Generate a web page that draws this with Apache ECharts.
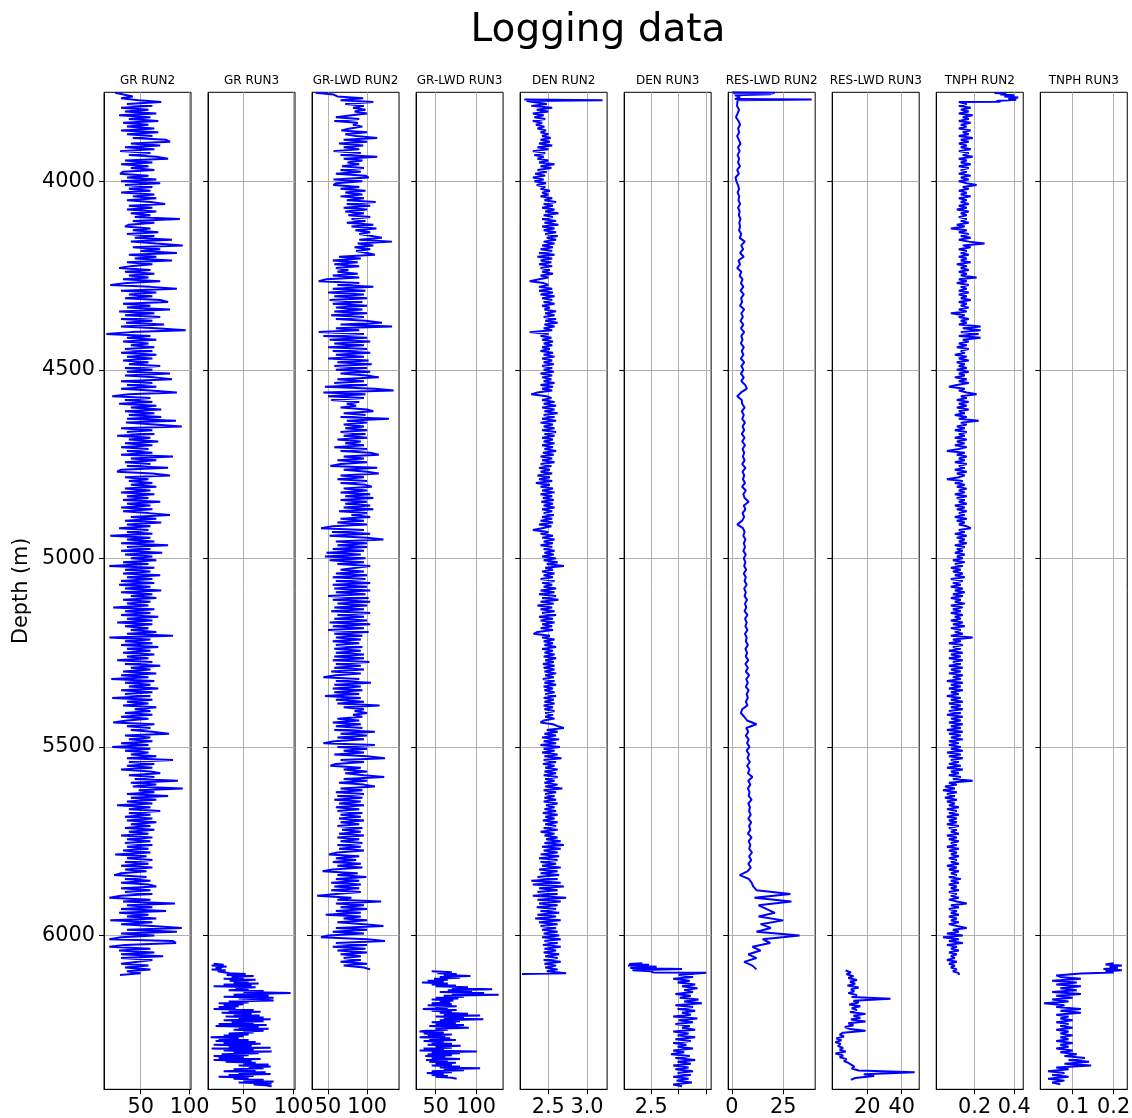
<!DOCTYPE html>
<html><head><meta charset="utf-8">
<script src="https://cdn.jsdelivr.net/npm/echarts@6/dist/echarts.min.js"></script>
<style>html,body{margin:0;padding:0;background:#fff}#c{width:1132px;height:1118px}</style>
</head><body><div id="c"></div>
<script>
// ---------------- DATA ----------------
const chartTitle = 'Logging data';
const depthLabel = 'Depth (m)';
const panelTitles = ['GR RUN2','GR RUN3','GR-LWD RUN2','GR-LWD RUN3','DEN RUN2','DEN RUN3','RES-LWD RUN2','RES-LWD RUN3','TNPH RUN2','TNPH RUN3'];
const depthTicks = [4000, 4500, 5000, 5500, 6000];
const depthMin = 3764, depthMax = 6408;
const xMins = [12.6, 14.4, 29.5, 25.7, 2.136, 2.2545, -1.8, -0.35, 0.006, 0.021];
const xMaxs = [101.4, 101.4, 141.0, 133.5, 3.259, 3.045, 40.6, 50.2, 0.4454, 0.2332];
const xTicks = [[50,100],[50,100],[50,100],[50,100],[2.5,3.0],[2.5,2.75,3.0],[0,25],[20,40],[0.2,0.4],[0.1,0.2]];
const xTickLabels = [['50','100'],['50','100'],['50','100'],['50','100'],['2.5','3.0'],['2.5','',''],['0','25'],['20','40'],['0.2','0.4'],['0.1','0.2']];

// heads/tails are [depth, value]; grids are values read at start + i*step
const grRun2Head = [[3765, 24]];
const grRun2Start = 3770, grRun2Step = 5;
const grRun2 = [
 24,42,30,48,71,36,62,30,58,34,66,28,60,38,68,32,58,36,64,30,
 68,36,62,42,76,80,40,70,34,64,29,60,38,66,78,34,62,30,58,40,
 64,32,29,58,36,66,30,70,34,62,38,60,30,64,42,66,36,60,75,38,
 62,36,66,40,60,44,90,42,64,38,34,60,42,68,36,64,44,82,40,66,
 93,42,70,50,87,38,66,44,82,36,62,40,28,60,34,64,38,58,32,70,
 36,19,60,87,30,66,38,62,34,70,78,32,60,36,80,28,64,34,70,30,
 62,35,74,30,66,96,40,15,60,36,66,32,58,40,64,34,62,30,66,36,
 62,32,58,38,70,34,62,36,80,34,64,82,30,62,36,66,30,60,87,38,
 21,60,34,62,28,66,40,71,34,64,38,71,36,86,35,64,92,30,62,36,
 64,26,60,38,68,34,62,30,58,36,62,30,83,40,66,34,60,36,78,30,
 26,62,80,34,58,38,62,40,66,34,60,30,64,36,58,32,70,36,60,30,
 62,32,58,80,40,66,34,71,36,60,28,58,36,62,19,60,36,64,30,78,
 36,60,30,72,34,62,40,66,32,58,18,64,34,60,32,70,36,62,30,64,
 28,60,34,71,30,62,40,66,32,60,36,58,22,64,34,60,30,68,36,62,
 26,62,34,58,40,66,36,83,18,60,34,62,30,68,36,60,32,64,36,58,
 26,62,34,70,40,60,32,66,30,58,20,64,34,60,38,68,30,62,34,60,
 21,62,36,58,32,66,44,60,34,62,30,58,36,22,64,36,60,40,62,79,
 34,60,38,62,30,58,21,60,34,58,40,66,36,83,38,64,36,62,30,60,
 70,38,64,44,88,40,66,42,93,48,64,36,78,40,66,36,62,26,60,38,
 70,38,60,34,62,36,66,40,60,34,64,38,58,30,62,36,60,34,62,36,
 58,32,60,24,56,36,62,34,58,30,62,34,56,30,23,56,34,60,30,58,
 66,30,60,34,62,30,18,60,32,85,36,62,30,76,28,58,36,66,19,62,
 30,62,92,36,87,30,64,30,18,83,86,34,18,60,28,64,30,73,30,62,
 60,30,58,34,60,36,50,29];

const grRun3Start = 6075, grRun3Step = 2.5;
const grRun3 = [
 20,30,18,33,22,28,18,32,24,30,36,52,33,60,38,50,30,62,36,55,
 40,65,30,58,20,62,42,55,35,70,50,97,60,40,75,30,80,45,70,80,
 35,55,25,50,30,45,25,42,20,60,35,67,28,58,40,66,32,70,45,77,
 30,70,38,60,25,73,22,65,45,75,40,70,50,60,35,55,30,50,17,45,
 25,55,22,62,30,67,20,58,35,77,18,60,30,78,40,65,28,55,20,50,
 25,67,20,58,32,62,50,75,45,77,55,70,40,62,30,72,45,77,35,60,
 25,55,40,70,50,80,45,78,60,72,78];

const grLwdRun2Start = 3765, grLwdRun2Step = 5;
const grLwdRun2 = [
 34,57,62,95,66,108,72,96,82,98,84,100,80,60,90,58,88,82,94,78,
 67,100,72,86,113,70,100,64,95,70,90,57,92,66,113,70,94,75,90,68,
 96,66,92,60,98,102,57,94,60,57,90,66,98,72,94,66,96,74,111,74,
 104,70,100,72,96,76,104,80,98,74,108,80,112,85,104,90,106,119,90,132,
 88,108,84,104,86,100,110,64,92,56,88,58,90,60,76,62,88,56,90,48,
 38,90,62,108,56,98,50,96,58,100,52,94,56,100,60,94,58,100,54,96,
 60,98,119,66,132,60,90,38,96,44,100,52,104,58,96,50,100,56,104,60,
 96,50,102,62,106,58,100,60,104,66,100,115,62,96,58,100,46,110,134,44,
 98,50,96,54,90,74,86,66,100,108,70,98,66,128,74,100,70,96,72,100,
 66,98,70,100,62,92,72,96,58,100,66,104,115,70,96,62,100,66,53,113,
 70,100,115,66,96,62,100,66,98,106,70,100,66,104,72,108,66,100,72,104,
 70,108,64,100,80,104,66,96,62,100,56,41,96,55,104,52,100,121,60,100,
 62,100,56,96,48,92,46,98,52,96,62,104,106,66,96,60,100,56,98,60,
 104,56,100,58,104,60,98,50,102,56,104,62,100,58,96,54,104,62,96,58,
 100,52,104,56,96,50,102,58,94,60,92,56,90,60,94,58,92,60,96,58,
 96,56,103,60,92,58,96,54,92,60,44,90,60,105,58,92,56,94,58,90,
 46,92,60,96,62,116,70,96,84,100,82,94,62,90,56,92,60,94,58,110,
 66,100,62,96,58,44,110,62,100,70,96,58,100,123,66,96,60,53,92,70,
 100,72,96,122,70,100,64,96,110,66,94,60,96,62,94,58,92,64,96,60,
 90,62,94,66,92,64,96,66,90,62,94,68,92,64,96,62,90,66,94,62,
 92,64,96,62,51,90,60,86,56,92,62,94,56,43,88,62,99,60,90,54,
 92,58,90,54,92,60,36,80,62,118,60,96,66,100,60,92,47,92,70,100,
 62,96,121,60,100,56,96,50,41,100,123,60,100,56,98,62,100,66,92,70,
 92,66,100,70,96,104];

const grLwdRun3Start = 6095, grLwdRun3Step = 2.5;
const grLwdRun3 = [
 45,70,52,76,60,93,55,80,48,65,40,60,33,65,45,75,50,90,70,120,
 65,95,55,110,70,128,60,85,50,78,45,72,55,68,45,70,40,76,50,65,
 34,76,45,70,55,90,60,105,50,85,60,109,55,80,45,75,50,85,42,70,
 91,50,65,38,30,60,35,70,40,62,30,68,42,75,35,60,45,70,40,81,
 50,70,35,60,30,101,45,80,40,70,37,62,45,80,38,65,42,75,50,70,
 45,80,55,105,60,85,45,70,39,60,45,65,50,70,76];

const denRun2Head = [[3783, 2.19],[3785, 3.20],[3787, 2.22]];
const denRun2Start = 3790, denRun2Step = 5;
const denRun2 = [
 2.22,2.48,2.28,2.55,2.35,2.50,2.30,2.44,2.32,2.46,2.30,2.42,2.34,2.45,2.36,2.47,2.40,2.50,2.42,2.53,
 2.40,2.52,2.38,2.55,2.36,2.50,2.30,2.46,2.32,2.44,2.36,2.50,2.38,2.58,2.40,2.54,2.36,2.48,2.33,2.46,
 2.30,2.44,2.32,2.47,2.35,2.46,2.40,2.52,2.42,2.50,2.40,2.55,2.45,2.60,2.44,2.56,2.42,2.58,2.46,2.63,
 2.44,2.56,2.42,2.60,2.45,2.63,2.42,2.58,2.44,2.60,2.46,2.62,2.48,2.60,2.44,2.58,2.42,2.56,2.40,2.55,
 2.38,2.58,2.36,2.55,2.40,2.54,2.38,2.55,2.40,2.52,2.42,2.56,2.40,2.50,2.38,2.26,2.44,2.50,2.38,2.55,
 2.38,2.56,2.40,2.58,2.42,2.55,2.44,2.58,2.42,2.52,2.45,2.60,2.46,2.58,2.44,2.60,2.46,2.62,2.45,2.58,
 2.44,2.55,2.26,2.50,2.40,2.54,2.42,2.56,2.44,2.55,2.42,2.52,2.40,2.56,2.44,2.58,2.42,2.55,2.44,2.57,
 2.42,2.55,2.44,2.57,2.40,2.55,2.42,2.54,2.44,2.58,2.40,2.56,2.42,2.55,2.36,2.28,2.48,2.54,2.42,2.58,
 2.44,2.60,2.42,2.58,2.45,2.62,2.44,2.58,2.42,2.60,2.40,2.56,2.44,2.58,2.42,2.60,2.45,2.58,2.42,2.56,
 2.44,2.58,2.42,2.56,2.45,2.60,2.43,2.57,2.40,2.55,2.42,2.58,2.40,2.54,2.38,2.52,2.40,2.55,2.36,2.52,
 2.38,2.55,2.34,2.52,2.40,2.56,2.42,2.58,2.40,2.55,2.43,2.57,2.41,2.56,2.44,2.58,2.42,2.55,2.44,2.57,
 2.42,2.55,2.40,2.56,2.38,2.54,2.42,2.30,2.50,2.40,2.56,2.42,2.58,2.44,2.56,2.40,2.55,2.44,2.58,2.45,
 2.57,2.42,2.60,2.44,2.62,2.48,2.70,2.46,2.56,2.42,2.58,2.44,2.56,2.40,2.58,2.42,2.55,2.44,2.60,2.40,
 2.58,2.38,2.60,2.42,2.63,2.40,2.57,2.36,2.55,2.40,2.58,2.42,2.60,2.38,2.56,2.40,2.58,2.42,2.55,2.40,
 2.56,2.36,2.31,2.52,2.42,2.58,2.44,2.56,2.45,2.60,2.42,2.56,2.45,2.58,2.44,2.60,2.46,2.57,2.43,2.58,
 2.44,2.58,2.45,2.60,2.46,2.57,2.43,2.58,2.45,2.60,2.44,2.56,2.45,2.58,2.46,2.60,2.44,2.57,2.45,2.58,
 2.44,2.56,2.45,2.58,2.46,2.56,2.46,2.58,2.44,2.40,2.56,2.62,2.70,2.48,2.62,2.45,2.60,2.42,2.64,2.44,
 2.60,2.40,2.65,2.44,2.58,2.42,2.62,2.45,2.67,2.44,2.60,2.43,2.58,2.46,2.62,2.45,2.60,2.44,2.62,2.46,
 2.58,2.45,2.62,2.46,2.68,2.44,2.60,2.46,2.58,2.45,2.60,2.44,2.62,2.47,2.58,2.45,2.60,2.43,2.62,2.46,
 2.58,2.43,2.62,2.46,2.60,2.44,2.62,2.40,2.58,2.45,2.62,2.47,2.66,2.45,2.70,2.42,2.66,2.44,2.62,2.40,
 2.64,2.38,2.62,2.40,2.60,2.42,2.66,2.38,2.62,2.40,2.64,2.36,2.62,2.28,2.66,2.30,2.70,2.38,2.62,2.36,
 2.62,2.30,2.73,2.36,2.66,2.38,2.62,2.35,2.60,2.40,2.64,2.36,2.60,2.33,2.66,2.38,2.62,2.40,2.60,2.42,
 2.62,2.44,2.64,2.42,2.66,2.45,2.62,2.43,2.66,2.45,2.60,2.44,2.64,2.46,2.62,2.44,2.66,2.45,2.60,2.46,
 2.62,2.48,2.73];
const denRun2Tail = [[6102, 2.16]];

const denRun3Head = [[6074,2.42],[6076,2.30],[6078,2.48],[6080,2.29],[6083,2.55],[6086,2.31],[6089,2.78],[6092,2.33],[6095,2.50],[6098,2.52],[6099,3.00]];
const denRun3Start = 6105, denRun3Step = 5;
const denRun3 = [
 2.75,2.88,2.70,2.85,2.74,2.90,2.78,2.92,2.80,2.88,
 2.72,2.86,2.76,2.93,2.80,2.96,2.72,2.88,2.74,2.90,
 2.78,2.86,2.70,2.92,2.75,2.88,2.72,2.85,2.78,2.90,
 2.70,2.84,2.74,2.90,2.72,2.86,2.70,2.82,2.74,2.88,
 2.70,2.80,2.68,2.85,2.72,2.90,2.74,2.86,2.70,2.84,
 2.72,2.88,2.74,2.86,2.70,2.84,2.73,2.87,2.70,2.78];

const resLwdRun2Head = [[3764,0.2],[3765,21],[3766,0.5],[3767,20],[3768,1],[3769,19],[3772,1.5],[3776,4],[3782,1.5],[3783,38.9],[3785,2.8]];
const resLwdRun2Start = 3790, resLwdRun2Step = 10;
const resLwdRun2 = [
 3.0,2.5,3.5,2.8,2.0,3.2,4.0,3.0,3.6,2.6,
 3.4,4.2,3.0,3.8,2.8,3.5,3.0,4.0,2.6,3.4,
 1.8,2.2,3.0,3.5,2.8,3.6,3.2,4.0,3.0,3.8,
 3.4,4.2,3.6,4.0,3.5,4.6,3.8,6.3,4.5,5.5,
 4.0,5.8,3.2,4.0,2.6,4.6,3.8,5.2,4.4,5.6,
 4.2,5.8,4.5,5.0,4.0,6.0,4.6,5.4,4.2,5.6,
 4.4,6.0,4.6,5.2,4.4,5.8,4.8,5.6,4.4,6.0,
 4.6,5.6,4.4,5.8,4.6,6.5,7.3,4.5,2.6,4.8,
 5.0,6.2,4.8,5.8,5.0,6.4,5.2,6.0,4.8,6.2,
 5.0,6.4,5.2,6.0,5.4,6.2,5.0,6.6,5.2,6.0,
 5.4,6.4,5.0,6.8,5.6,6.2,8.2,5.8,6.6,5.2,
 6.0,5.0,2.6,5.4,6.2,5.6,6.6,5.8,6.4,5.6,
 6.8,5.8,6.6,6.0,7.0,5.8,6.8,6.2,7.2,6.0,
 6.8,6.2,7.4,6.4,7.0,6.2,7.6,6.4,7.2,6.6,
 7.6,6.4,7.2,6.8,7.8,6.6,7.4,6.8,8.0,6.6,
 7.8,6.8,8.4,7.0,7.8,6.8,8.2,7.2,7.8,6.8,
 7.6,5.0,4.4,6.0,7.4,12.0,7.0,8.0,6.8,8.2,
 7.4,8.6,7.2,8.4,7.6,8.8,7.4,8.6,7.8,10.0,
 8.0,9.0,7.8,8.6,8.2,9.6,8.0,8.8,8.4,9.2,
 8.0,9.4,8.4,9.0,7.8,9.6,8.2,9.0,8.4,9.8,
 8.4,9.4,8.0,9.2,7.6,3.8,8.2,9.6,10.4,12.0,
 28.5,11,29,13,17,21,13,25,14,19,
 12,33,15,18.7,10,14,8,12,6,10,
 12];

const resLwdRun3Start = 6093, resLwdRun3Step = 5;
const resLwdRun3 = [
 7.4,10.5,8.0,12.0,9.0,14.0,10.0,13.0,8.5,15.0,
 10.5,12.5,9.0,14.0,11.0,33.5,12.0,15.0,9.5,16.0,
 11.0,14.0,10.0,19.0,12.0,16.0,10.5,19.0,9.0,12.0,
 7.0,10.0,19.0,6.0,4.0,6.5,2.0,5.0,1.5,4.5,
 3.0,6.0,4.0,7.5,1.5,6.0,4.0,8.0,6.5,9.0,
 10.0,12.5,11.0,15.0,47.5,18.0,24.0,13.0,10.5];

const tnphRun2Head = [[3766,0.30],[3768,0.36],[3770,0.33],[3772,0.40],[3775,0.35],[3778,0.42],[3781,0.37],[3784,0.41],[3787,0.31],[3789,0.33],[3790,0.12]];
const tnphRun2Start = 3795, tnphRun2Step = 5;
const tnphRun2 = [
 0.16,0.12,0.18,0.13,0.17,0.12,0.19,0.14,0.17,0.12,0.18,0.13,0.16,0.12,0.18,0.14,0.17,0.12,0.19,0.13,
 0.17,0.12,0.16,0.13,0.18,0.12,0.17,0.14,0.19,0.12,0.16,0.13,0.18,0.12,0.17,0.13,0.16,0.12,0.18,0.13,
 0.17,0.12,0.16,0.21,0.14,0.17,0.12,0.16,0.13,0.18,0.12,0.16,0.13,0.17,0.12,0.16,0.11,0.17,0.13,0.16,
 0.12,0.16,0.13,0.17,0.11,0.15,0.08,0.16,0.12,0.17,0.13,0.18,0.12,0.17,0.25,0.14,0.18,0.12,0.16,0.13,
 0.17,0.12,0.16,0.13,0.18,0.11,0.16,0.13,0.17,0.12,0.16,0.13,0.21,0.12,0.16,0.11,0.17,0.13,0.16,0.12,
 0.17,0.12,0.16,0.13,0.18,0.12,0.16,0.13,0.17,0.12,0.16,0.08,0.15,0.12,0.17,0.13,0.16,0.12,0.23,0.14,
 0.23,0.13,0.22,0.12,0.23,0.14,0.17,0.12,0.16,0.11,0.17,0.13,0.15,0.10,0.16,0.12,0.17,0.11,0.15,0.12,
 0.16,0.11,0.17,0.12,0.15,0.10,0.16,0.12,0.17,0.11,0.07,0.15,0.12,0.16,0.21,0.13,0.16,0.11,0.17,0.12,
 0.16,0.11,0.17,0.12,0.15,0.10,0.16,0.12,0.22,0.13,0.16,0.11,0.15,0.10,0.16,0.12,0.15,0.10,0.16,0.11,
 0.15,0.10,0.16,0.12,0.06,0.15,0.11,0.16,0.12,0.15,0.10,0.16,0.12,0.15,0.10,0.16,0.11,0.15,0.12,0.06,
 0.14,0.10,0.15,0.11,0.16,0.12,0.15,0.10,0.16,0.11,0.15,0.12,0.16,0.10,0.15,0.11,0.16,0.12,0.15,0.10,
 0.16,0.11,0.15,0.12,0.16,0.18,0.12,0.15,0.10,0.16,0.11,0.15,0.12,0.16,0.10,0.15,0.11,0.14,0.10,0.15,
 0.11,0.14,0.09,0.15,0.10,0.14,0.08,0.13,0.09,0.14,0.10,0.15,0.08,0.14,0.09,0.13,0.08,0.14,0.10,0.15,
 0.09,0.14,0.08,0.13,0.10,0.15,0.08,0.14,0.09,0.13,0.08,0.14,0.10,0.13,0.08,0.14,0.09,0.15,0.08,0.13,
 0.10,0.14,0.08,0.19,0.09,0.13,0.07,0.14,0.09,0.13,0.07,0.14,0.08,0.13,0.07,0.14,0.09,0.13,0.07,0.14,
 0.08,0.13,0.07,0.14,0.09,0.13,0.06,0.14,0.08,0.13,0.07,0.14,0.08,0.12,0.06,0.13,0.08,0.14,0.07,0.13,
 0.08,0.14,0.07,0.13,0.06,0.14,0.08,0.13,0.07,0.14,0.08,0.13,0.06,0.14,0.07,0.13,0.08,0.14,0.07,0.12,
 0.07,0.13,0.08,0.14,0.06,0.13,0.07,0.14,0.08,0.12,0.07,0.13,0.06,0.14,0.08,0.12,0.07,0.13,0.09,0.19,
 0.07,0.11,0.05,0.10,0.04,0.11,0.06,0.10,0.05,0.11,0.06,0.10,0.07,0.12,0.06,0.11,0.07,0.12,0.06,0.11,
 0.07,0.11,0.06,0.12,0.07,0.11,0.08,0.12,0.06,0.11,0.07,0.12,0.08,0.11,0.06,0.12,0.07,0.11,0.08,0.12,
 0.07,0.11,0.08,0.12,0.06,0.11,0.07,0.12,0.08,0.11,0.07,0.13,0.08,0.12,0.07,0.11,0.08,0.12,0.07,0.11,
 0.08,0.12,0.07,0.11,0.16,0.08,0.12,0.07,0.11,0.08,0.12,0.07,0.11,0.08,0.12,0.07,0.11,0.16,0.09,0.12,
 0.06,0.14,0.04,0.12,0.07,0.14,0.06,0.11,0.08,0.12,0.07,0.11,0.08,0.10,0.06,0.11,0.07,0.10,0.08,0.11,
 0.09,0.12,0.12];

const tnphRun3Head = [[6074,0.20],[6077,0.18],[6080,0.22],[6083,0.19],[6086,0.21],[6089,0.175],[6092,0.22],[6095,0.18],[6098,0.20],[6101,0.12],[6104,0.12],[6106,0.06]];
const tnphRun3Start = 6110, tnphRun3Step = 5;
const tnphRun3 = [
 0.07,0.12,0.05,0.11,0.06,0.12,0.07,0.11,0.05,0.12,
 0.06,0.10,0.05,0.09,0.03,0.08,0.06,0.12,0.07,0.12,
 0.06,0.09,0.07,0.10,0.06,0.09,0.07,0.10,0.06,0.09,
 0.07,0.10,0.07,0.09,0.06,0.10,0.07,0.09,0.06,0.10,
 0.07,0.11,0.08,0.13,0.09,0.14,0.08,0.145,0.06,0.09,
 0.04,0.08,0.05,0.09,0.04,0.08,0.05,0.07];

// ---------------- BUILD ----------------
function curve(head, start, step, values, tail) {
  const out = [];
  (head || []).forEach(p => out.push([p[1], p[0]]));
  values.forEach((v, i) => out.push([v, start + i * step]));
  (tail || []).forEach(p => out.push([p[1], p[0]]));
  return out;
}
const curves = [
  curve(grRun2Head, grRun2Start, grRun2Step, grRun2),
  curve(null, grRun3Start, grRun3Step, grRun3),
  curve(null, grLwdRun2Start, grLwdRun2Step, grLwdRun2),
  curve(null, grLwdRun3Start, grLwdRun3Step, grLwdRun3),
  curve(denRun2Head, denRun2Start, denRun2Step, denRun2, denRun2Tail),
  curve(denRun3Head, denRun3Start, denRun3Step, denRun3),
  curve(resLwdRun2Head, resLwdRun2Start, resLwdRun2Step, resLwdRun2),
  curve(null, resLwdRun3Start, resLwdRun3Step, resLwdRun3),
  curve(tnphRun2Head, tnphRun2Start, tnphRun2Step, tnphRun2),
  curve(tnphRun3Head, tnphRun3Start, tnphRun3Step, tnphRun3)
];

const FONT = 'DejaVu Sans';
const panelLeft0 = 104, panelPitch = 104.03, panelW = 87, panelTop = 92.3, panelH = 997;
const gridLine = { color: '#b0b0b0', width: 1 };
const black = { color: '#000', width: 1 };

const option = {
  animation: false,
  backgroundColor: '#fff',
  title: [{
    text: chartTitle, left: 598, top: 11, textAlign: 'center', padding: 0,
    textStyle: { fontFamily: FONT, fontSize: 39, fontWeight: 'normal', color: '#000' }
  }].concat(panelTitles.map((t, i) => ({
    text: t, left: panelLeft0 + panelPitch * i + panelW / 2, top: 75, textAlign: 'center', padding: 0,
    textStyle: { fontFamily: FONT, fontSize: 12, fontWeight: 'normal', color: '#000' }
  }))),
  grid: panelTitles.map((t, i) => ({
    left: panelLeft0 + panelPitch * i, top: panelTop, width: panelW, height: panelH,
    show: true, borderColor: '#000', borderWidth: 1, backgroundColor: 'transparent',
    containLabel: false, outerBoundsMode: 'none'
  })),
  xAxis: panelTitles.map((t, i) => ({
    gridIndex: i, type: 'value', position: 'bottom', min: xMins[i], max: xMaxs[i],
    axisLine: { show: true, onZero: false, lineStyle: black },
    axisTick: { show: true, customValues: xTicks[i], length: 5, lineStyle: black },
    axisLabel: {
      customValues: xTicks[i].filter((v, k) => xTickLabels[i][k] !== ''),
      formatter: v => { const k = xTicks[i].findIndex(x => Math.abs(x - v) < 1e-9); return k >= 0 ? xTickLabels[i][k] : ''; },
      color: '#000', fontFamily: FONT, fontSize: 20.8, margin: 8
    },
    splitLine: { show: true, lineStyle: gridLine }
  })),
  yAxis: panelTitles.map((t, i) => ({
    gridIndex: i, type: 'value', inverse: true, min: depthMin, max: depthMax,
    axisLine: { show: true, onZero: false, lineStyle: black },
    axisTick: { show: true, customValues: depthTicks, length: 5, lineStyle: black },
    axisLabel: { show: i === 0, customValues: depthTicks, formatter: v => String(v),
      color: '#000', fontFamily: FONT, fontSize: 20.8, margin: 9 },
    splitLine: { show: true, lineStyle: gridLine },
    name: i === 0 ? depthLabel : '', nameLocation: 'middle', nameGap: 72,
    nameTextStyle: { color: '#000', fontFamily: FONT, fontSize: 20.8 }
  })),
  series: curves.map((d, i) => ({
    type: 'line', xAxisIndex: i, yAxisIndex: i, data: d,
    showSymbol: false, symbol: 'none', silent: true, clip: true,
    lineStyle: { color: '#0000ff', width: 2 }
  }))
};
const chart = echarts.init(document.getElementById('c'), null, { renderer: 'canvas' });
chart.setOption(option);
</script></body></html>
